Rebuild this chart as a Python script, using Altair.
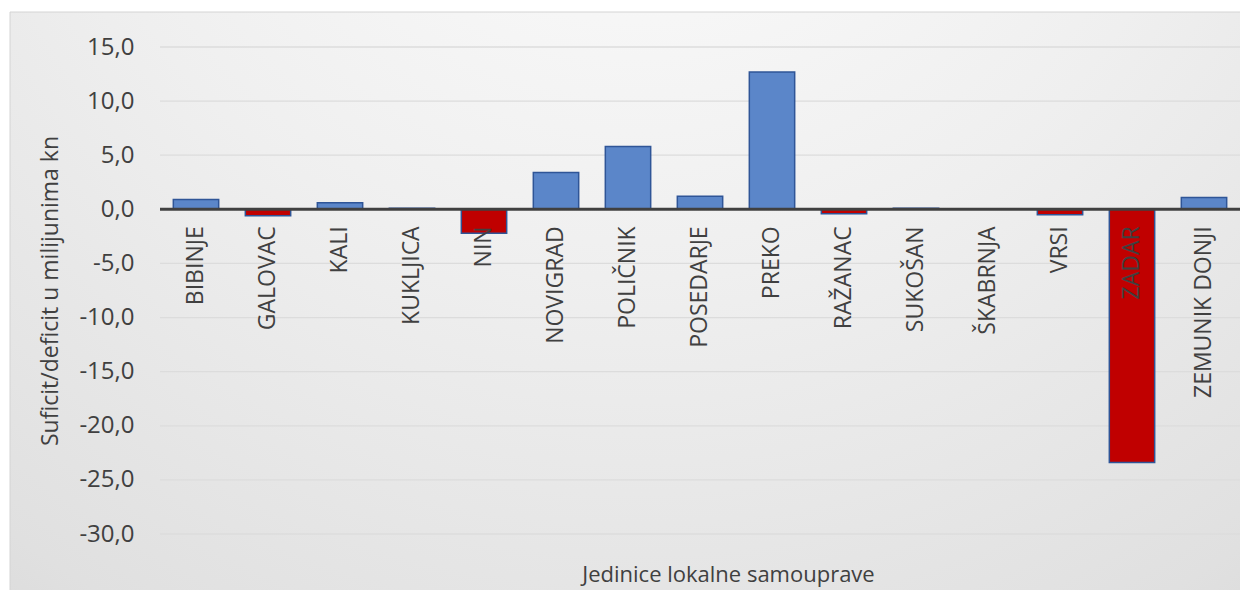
import altair as alt
import pandas as pd

categories = ["BIBINJE", "GALOVAC", "KALI", "KUKLJICA", "NIN", "NOVIGRAD", "POLIČNIK",
              "POSEDARJE", "PREKO", "RAŽANAC", "SUKOŠAN", "ŠKABRNJA", "VRSI", "ZADAR",
              "ZEMUNIK DONJI"]
values = [0.9, -0.6, 0.6, 0.1, -2.2, 3.4, 5.8, 1.2, 12.7, -0.4, 0.1, 0.05, -0.5, -23.4, 1.1]
y_ticks = [15, 10, 5, 0, -5, -10, -15, -20, -25, -30]

x_title = "Jedinice lokalne samouprave"
y_title = "Suficit/deficit u milijunima kn"

W, H = 1080, 487
FONT = "Open Sans"
TXT = "#404040"

df = pd.DataFrame({"jls": categories, "v": values})
grid_df = pd.DataFrame({"t": y_ticks})
frame_df = pd.DataFrame({"f": [0]})

yscale = alt.Scale(domain=[-30, 15], nice=False, zero=False)
xscale = alt.Scale(paddingInner=0.37, paddingOuter=0.185)

y_axis = alt.Axis(values=y_ticks, grid=False, domain=False, ticks=False, zindex=1,
                  labelExpr="replace(replace(format(datum.value, '.1f'), '.', ','), '−', '-')",
                  labelFont=FONT, labelFontSize=24, labelColor=TXT, labelPadding=26,
                  title=y_title, titleFont=FONT, titleFontSize=23,
                  titleFontWeight="normal", titleColor=TXT,
                  titleX=-110, titleBaseline="middle")

x_axis = alt.Axis(labels=False, ticks=False, domain=False, grid=False, zindex=1,
                  title=x_title, titleFont=FONT, titleFontSize=22,
                  titleFontWeight="normal", titleColor=TXT,
                  titleX=568, titleY=47, titleBaseline="alphabetic")

gradient = {
    "gradient": "radial",
    "x1": 0.5, "y1": 0.0, "r1": 0.0,
    "x2": 0.5, "y2": 0.0, "r2": 1.05,
    "stops": [
        {"offset": 0.0, "color": "#ffffff"},
        {"offset": 0.45, "color": "#efefef"},
        {"offset": 0.8, "color": "#e0e0e0"},
        {"offset": 1.0, "color": "#d2d2d2"},
    ],
}

bg = alt.Chart(frame_df).mark_rect(
    fill=gradient, stroke="#d4d4d4", strokeWidth=1, clip=False
).encode(
    x=alt.value(-150), x2=alt.value(W + 20),
    y=alt.value(-35), y2=alt.value(H + 80),
)

grid = alt.Chart(grid_df).mark_rule(color="#dcdcdc", strokeWidth=1.3).encode(
    y=alt.Y("t:Q", scale=yscale, axis=y_axis)
)

bars = alt.Chart(df).mark_bar(stroke="#2F5597", strokeWidth=1.5).encode(
    x=alt.X("jls:N", sort=categories, scale=xscale, axis=x_axis),
    y=alt.Y("v:Q", scale=yscale, axis=y_axis),
    color=alt.condition("datum.v < 0", alt.value("#C00000"), alt.value("#5B86C9")),
)

zero = alt.Chart(grid_df).transform_filter("datum.t == 0").mark_rule(
    color="#404040", strokeWidth=3
).encode(y=alt.Y("t:Q", scale=yscale, axis=y_axis))

labels = alt.Chart(df).mark_text(
    angle=270, align="right", baseline="middle", dx=-17,
    font=FONT, fontSize=23, color=TXT
).encode(
    x=alt.X("jls:N", sort=categories, scale=xscale, axis=x_axis),
    y=alt.datum(0),
    text="jls:N",
)

chart = alt.layer(bg, grid, bars, zero, labels).properties(
    width=W, height=H,
    padding={"left": 152, "top": 39, "right": 0, "bottom": 56},
    autosize=alt.AutoSizeParams(type="none"),
    background="white",
).configure_view(stroke=None)

chart.save("out.html", embed_options={"renderer": "svg", "actions": False})
